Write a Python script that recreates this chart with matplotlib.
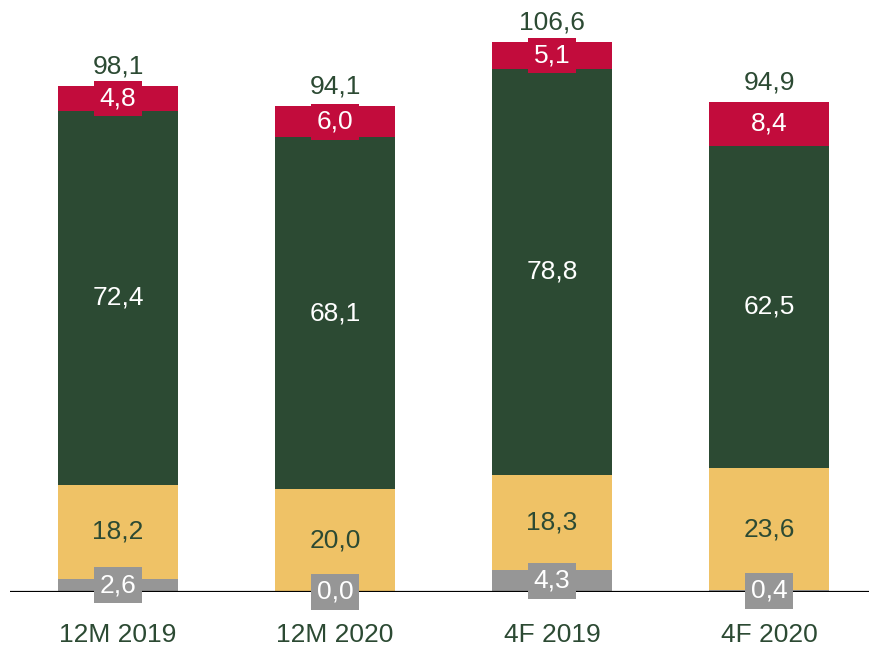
import numpy as np
import matplotlib.pyplot as plt

plt.rcParams['font.family'] = ['Liberation Sans', 'DejaVu Sans']

categories = ['12M 2019', '12M 2020', '4F 2019', '4F 2020']
gray_vals = [2.6, 0.0, 4.3, 0.4]
yellow_vals = [18.2, 20.0, 18.3, 23.6]
green_vals = [72.4, 68.1, 78.8, 62.5]
red_vals = [4.8, 6.0, 5.1, 8.4]
totals = [98.1, 94.1, 106.6, 94.9]

c_gray = '#969696'
c_yellow = '#EFC266'
c_green = '#2C4A33'
c_red = '#C20C3C'
c_text = '#2C4A33'

def fmt(v):
    return ('%.1f' % v).replace('.', ',')

fig = plt.figure(figsize=(8.7, 6.47), dpi=100)
ax = fig.add_axes([10 / 870, 55 / 647, 860 / 870, 592 / 647])

x = np.arange(len(categories))
w = 0.553
g = np.array(gray_vals)
yl = np.array(yellow_vals)
gr = np.array(green_vals)
r = np.array(red_vals)

ax.bar(x, g, w, color=c_gray)
ax.bar(x, yl, w, bottom=g, color=c_yellow)
ax.bar(x, gr, w, bottom=g + yl, color=c_green)
ax.bar(x, r, w, bottom=g + yl + gr, color=c_red)

fs = 19
for i in range(len(x)):
    ax.text(x[i], g[i] / 2, fmt(g[i]), ha='center', va='center', fontsize=fs,
            color='white', zorder=5,
            bbox=dict(boxstyle='square,pad=0.22', fc=c_gray, ec='none'))
    ax.text(x[i], g[i] + yl[i] / 2, fmt(yl[i]), ha='center', va='center',
            fontsize=fs, color=c_text)
    ax.text(x[i], g[i] + yl[i] + gr[i] / 2, fmt(gr[i]), ha='center',
            va='center', fontsize=fs, color='white')
    ax.text(x[i], g[i] + yl[i] + gr[i] + r[i] / 2, fmt(r[i]), ha='center',
            va='center', fontsize=fs, color='white', zorder=5,
            bbox=dict(boxstyle='square,pad=0.22', fc=c_red, ec='none'))
    top = g[i] + yl[i] + gr[i] + r[i]
    ax.text(x[i], top + 1.5, fmt(totals[i]), ha='center', va='bottom',
            fontsize=fs, color=c_text)

ax.axhline(0, color='black', lw=1.6, zorder=4)
ax.set_xlim(-0.4977, 3.465)
ax.set_ylim(0, 114.7)
for s in ax.spines.values():
    s.set_visible(False)
ax.set_yticks([])
ax.set_xticks(x)
ax.set_xticklabels(categories, fontsize=fs, color=c_text)
ax.tick_params(axis='x', length=0, pad=22)

fig.savefig('out.png', dpi=100)
